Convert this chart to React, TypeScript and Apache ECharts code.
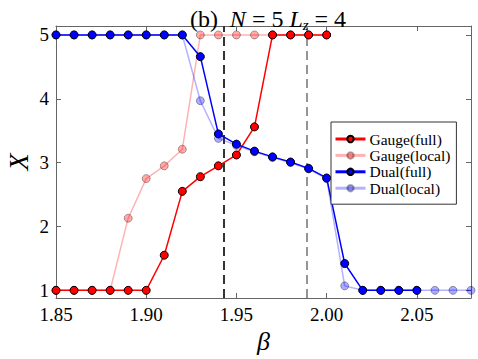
import React, { useEffect, useRef } from "react";
import * as echarts from "echarts";

const betaGaugeFull = [1.85, 1.86, 1.87, 1.88, 1.89, 1.9, 1.91, 1.92, 1.93, 1.94, 1.95, 1.96, 1.97, 1.98, 1.99, 2.0];
const gaugeFull = [1, 1, 1, 1, 1, 1, 1.55, 2.55, 2.78, 2.95, 3.12, 3.56, 5, 5, 5, 5];
const betaGaugeLocal = [1.85, 1.86, 1.87, 1.88, 1.89, 1.9, 1.91, 1.92, 1.93, 1.94, 1.95, 1.96, 1.97, 1.98, 1.99, 2.0];
const gaugeLocal = [1, 1, 1, 1, 2.13, 2.75, 2.95, 3.21, 5, 5, 5, 5, 5, 5, 5, 5];
const betaDualFull = [1.85, 1.86, 1.87, 1.88, 1.89, 1.9, 1.91, 1.92, 1.93, 1.94, 1.95, 1.96, 1.97, 1.98, 1.99, 2.0, 2.01, 2.02, 2.03, 2.04, 2.05];
const dualFull = [5, 5, 5, 5, 5, 5, 5, 5, 4.66, 3.45, 3.29, 3.18, 3.09, 3.01, 2.91, 2.76, 1.42, 1, 1, 1, 1];
const betaDualLocal = [1.85, 1.86, 1.87, 1.88, 1.89, 1.9, 1.91, 1.92, 1.93, 1.94, 1.95, 1.96, 1.97, 1.98, 1.99, 2.0, 2.01, 2.02, 2.03, 2.04, 2.05, 2.06, 2.07, 2.08];
const dualLocal = [5, 5, 5, 5, 5, 5, 5, 5, 3.97, 3.38, 3.27, 3.17, 3.08, 3.0, 2.9, 2.75, 1.07, 1, 1, 1, 1, 1, 1, 1];
const criticalBetas = [1.9428, 1.9887];
const xTicks = [1.85, 1.9, 1.95, 2.0, 2.05];
const yTicks = [1, 2, 3, 4, 5];

const FONT = "'Liberation Serif', 'Times New Roman', serif";

function pairs(xs: number[], ys: number[]) {
  return xs.map((x, i) => [x, ys[i]]);
}

export default function App() {
  const ref = useRef<HTMLDivElement>(null);
  useEffect(() => {
    document.body.style.margin = "0";
    const chart = echarts.init(ref.current!, null, { renderer: "svg" });
    const axisColor = "#666";
    const xCommon = {
      type: "value" as const,
      min: 1.85,
      max: 2.08,
      splitLine: { show: false },
      axisLine: { show: true, onZero: false, lineStyle: { color: axisColor, width: 1 } },
      axisTick: { show: true, inside: true, length: 5, customValues: xTicks, lineStyle: { color: axisColor } },
    };
    const yCommon = {
      type: "value" as const,
      min: 0.88,
      max: 5.14,
      splitLine: { show: false },
      axisLine: { show: true, onZero: false, lineStyle: { color: axisColor, width: 1 } },
      axisTick: { show: true, inside: true, length: 5, customValues: yTicks, lineStyle: { color: axisColor } },
    };
    const fullStyle = (color: string) => ({
      type: "line" as const,
      symbol: "circle",
      symbolSize: 8,
      showSymbol: true,
      lineStyle: { color, width: 1.5 },
      itemStyle: { color, borderColor: "#000", borderWidth: 1 },
      z: 3,
    });
    const localStyle = (color: string) => ({
      type: "line" as const,
      symbol: "circle",
      symbolSize: 8,
      showSymbol: true,
      lineStyle: { color, width: 1.5, opacity: 0.3 },
      itemStyle: { color, borderColor: "#000", borderWidth: 1, opacity: 0.33 },
      z: 2,
    });
    chart.setOption({
      animation: false,
      grid: { left: 56, right: 7, top: 26, bottom: 61, containLabel: false, outerBoundsMode: "none" },
      title: {
        text: "{n|(b)  }{i|N}{n| = 5 }{i|L}{s|z}{n| = 4}",
        left: 263,
        textAlign: "center",
        top: 0,
        textStyle: {
          fontWeight: "normal",
          fontFamily: FONT,
          fontSize: 24,
          rich: {
            n: { fontFamily: FONT, fontWeight: "normal", fontSize: 24, color: "#000", lineHeight: 27, verticalAlign: "middle" },
            i: { fontFamily: FONT, fontWeight: "normal", fontSize: 24, fontStyle: "italic", color: "#000", lineHeight: 27, verticalAlign: "middle" },
            s: { fontFamily: FONT, fontWeight: "normal", fontSize: 15, fontStyle: "italic", color: "#000", lineHeight: 15, verticalAlign: "bottom" },
          },
        },
      },
      legend: {
        orient: "vertical",
        left: 331,
        top: 122,
        padding: [9, 6, 8, 3],
        itemGap: 0.4,
        itemWidth: 30,
        itemHeight: 8,
        borderColor: "#333",
        borderWidth: 1,
        backgroundColor: "#fff",
        lineStyle: { width: 3 },
        textStyle: { fontFamily: FONT, fontSize: 15.5, lineHeight: 16, color: "#000", padding: [0, 0, 0, -1] },
        data: ["Gauge(full)", "Gauge(local)", "Dual(full)", "Dual(local)"],
      },
      xAxis: [
        {
          ...xCommon,
          position: "bottom",
          name: "β",
          nameLocation: "middle",
          nameGap: 30,
          nameMoveOverlap: false,
          nameTextStyle: { fontFamily: FONT, fontSize: 26, fontStyle: "italic", color: "#000" },
          axisLabel: {
            show: true,
            customValues: xTicks,
            margin: 7,
            fontFamily: FONT,
            fontSize: 19,
            color: "#000",
            formatter: (v: number) => v.toFixed(2),
          },
        },
        { ...xCommon, position: "top", axisLabel: { show: false } },
      ],
      yAxis: [
        {
          ...yCommon,
          position: "left",
          name: "X",
          nameLocation: "middle",
          nameGap: 24,
          nameRotate: 90,
          nameMoveOverlap: false,
          nameTextStyle: { fontFamily: FONT, fontSize: 28, fontStyle: "italic", color: "#000" },
          axisLabel: {
            show: true,
            customValues: yTicks,
            margin: 7,
            fontFamily: FONT,
            fontSize: 19,
            color: "#000",
            formatter: (v: number) => String(v),
          },
        },
        { ...yCommon, position: "right", axisLabel: { show: false } },
      ],
      series: [
        {
          name: "Gauge(local)",
          ...localStyle("#ff0000"),
          data: pairs(betaGaugeLocal, gaugeLocal),
          markLine: {
            silent: true,
            symbol: "none",
            precision: 4,
            label: { show: false },
            z: 1,
            data: [
              { xAxis: criticalBetas[0], lineStyle: { color: "#333", width: 2, type: [9, 5], opacity: 1 } },
              { xAxis: criticalBetas[1], lineStyle: { color: "#8a8a8a", width: 1.8, type: [9, 5], opacity: 1 } },
            ],
          },
        },
        { name: "Dual(local)", ...localStyle("#0000ff"), data: pairs(betaDualLocal, dualLocal) },
        { name: "Gauge(full)", ...fullStyle("#ff0000"), data: pairs(betaGaugeFull, gaugeFull) },
        { name: "Dual(full)", ...fullStyle("#0000ff"), data: pairs(betaDualFull, dualFull) },
      ],
    });
    return () => chart.dispose();
  }, []);
  return <div ref={ref} style={{ width: 478, height: 359, position: "absolute", left: 0, top: 0 }} />;
}
